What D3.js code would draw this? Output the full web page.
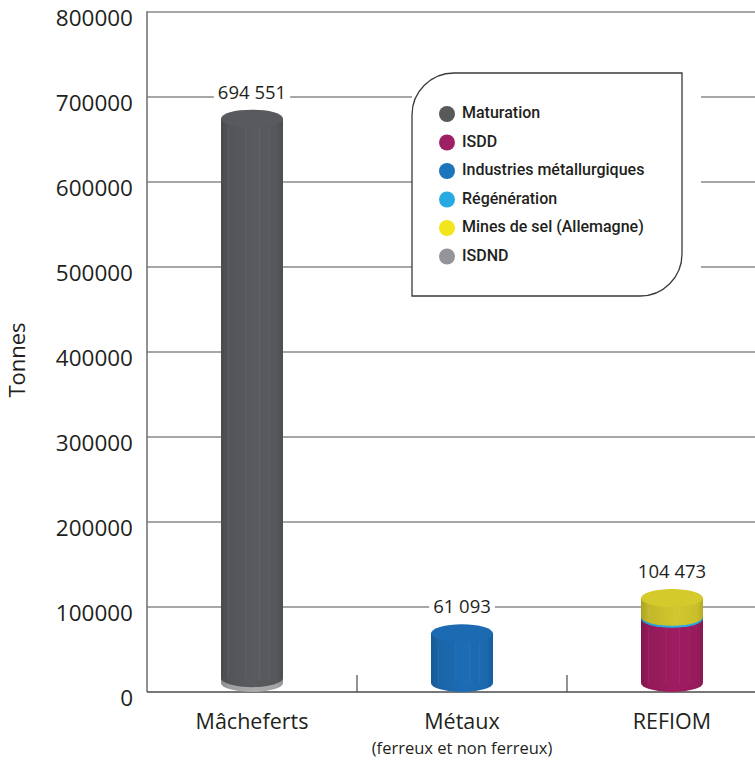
<!DOCTYPE html>
<html>
<head>
<meta charset="utf-8">
<script src="https://cdn.jsdelivr.net/npm/d3@7"></script>
<style>
  html, body { margin: 0; padding: 0; background: #fff; }
  svg { display: block; }
</style>
</head>
<body>
<svg id="chart" width="755" height="762"></svg>
<script>
// Categories and their sub-labels
const categories = ["Mâcheferts", "Métaux", "REFIOM"];
const subLabels = ["", "(ferreux et non ferreux)", ""];

// Destinations (stack order, bottom to top)
const destinations = ["ISDND", "Maturation", "Industries métallurgiques", "ISDD", "Régénération", "Mines de sel (Allemagne)"];

// Tonnages per destination, one array per category (same order as destinations)
const macheferts = [6000, 688551, 0, 0, 0, 0];
const metaux     = [0, 0, 61093, 0, 0, 0];
const refiom     = [0, 0, 0, 79000, 2500, 22973];

// Totals written above each cylinder
const totals = [694551, 61093, 104473];
const totalLabels = ["694 551", "61 093", "104 473"];

// Legend entries (display order)
const legendItems = ["Maturation", "ISDD", "Industries métallurgiques", "Régénération", "Mines de sel (Allemagne)", "ISDND"];

// Y axis ticks
const yTicks = [0, 100000, 200000, 300000, 400000, 500000, 600000, 700000, 800000];

const colors = {
  "Maturation": "#58595b",
  "ISDD": "#9e1f63",
  "Industries métallurgiques": "#1c75bc",
  "Régénération": "#27aae1",
  "Mines de sel (Allemagne)": "#f2e51c",
  "ISDND": "#939598"
};
// Body tones of the cylinders (slightly shaded versions)
const bodyColors = {
  "Maturation": "#56575a",
  "ISDD": "#981b5c",
  "Industries métallurgiques": "#1b68ad",
  "Régénération": "#27a6dc",
  "Mines de sel (Allemagne)": "#c9bf2b",
  "ISDND": "#a3a4a6"
};

const series = [macheferts, metaux, refiom];

const svg = d3.select("#chart");
const W = 755;
const plotLeft = 147, plotTop = 12, plotBottom = 692;

const y = d3.scaleLinear().domain([0, 800000]).range([plotBottom, plotTop]);
const x = d3.scaleBand().domain(categories).range([plotLeft, plotLeft + 630]).padding(0);

// Cylinder projection: floor sits slightly behind the axis baseline
const floorY = 683;
const yc = d3.scaleLinear().domain([0, 800000]).range([floorY, floorY - 650]);
const cylW = 62, ry = 9;

const font = "'Open Sans', 'DejaVu Sans', sans-serif";
const ink = "#231f20";

// Gradients for cylinder bodies
const defs = svg.append("defs");
Object.keys(bodyColors).forEach((k, i) => {
  const c = d3.color(bodyColors[k]);
  const g = defs.append("linearGradient").attr("id", "g" + i).attr("x1", "0").attr("x2", "1").attr("y1", "0").attr("y2", "0");
  g.append("stop").attr("offset", "0").attr("stop-color", c.darker(0.45));
  g.append("stop").attr("offset", "0.12").attr("stop-color", c.darker(0.1));
  g.append("stop").attr("offset", "0.55").attr("stop-color", c.brighter(0.12));
  g.append("stop").attr("offset", "0.9").attr("stop-color", c);
  g.append("stop").attr("offset", "1").attr("stop-color", c.darker(0.3));
});
const gradId = k => "url(#g" + Object.keys(bodyColors).indexOf(k) + ")";

// Gridlines
svg.append("g").selectAll("line").data(yTicks.filter(d => d > 0)).join("line")
  .attr("x1", plotLeft).attr("x2", W)
  .attr("y1", d => y(d)).attr("y2", d => y(d))
  .attr("stroke", "#8a8a8a").attr("stroke-width", 1.5);

// Left axis line
svg.append("line").attr("x1", plotLeft).attr("x2", plotLeft).attr("y1", plotTop - 0.75).attr("y2", plotBottom)
  .attr("stroke", "#6d6d6d").attr("stroke-width", 1.5);

// Baseline and category separators
svg.append("line").attr("x1", plotLeft).attr("x2", W).attr("y1", plotBottom).attr("y2", plotBottom)
  .attr("stroke", "#4a4a4a").attr("stroke-width", 1.5);
svg.append("g").selectAll("line").data(categories.slice(1)).join("line")
  .attr("x1", d => x(d)).attr("x2", d => x(d))
  .attr("y1", plotBottom - 17).attr("y2", plotBottom)
  .attr("stroke", "#4a4a4a").attr("stroke-width", 1.2);

// Y tick labels
svg.append("g").selectAll("text").data(yTicks).join("text")
  .attr("x", 133).attr("y", d => y(d) + 8)
  .attr("text-anchor", "end").attr("dominant-baseline", "middle")
  .attr("font-family", font).attr("font-size", 22.5).attr("fill", ink)
  .text(d => d3.format("d")(d));

// Y axis title
svg.append("text")
  .attr("transform", "translate(19,360) rotate(-90)")
  .attr("text-anchor", "middle").attr("dominant-baseline", "middle")
  .attr("font-family", font).attr("font-size", 22).attr("fill", ink)
  .text("Tonnes");

// Legend backdrop masks gridlines
const lg = { x0: 412, y0: 73, x1: 682, y1: 296, r: 42 };
svg.append("rect").attr("x", lg.x0).attr("y", lg.y0).attr("width", 701 - lg.x0).attr("height", lg.y1 - lg.y0).attr("fill", "#fff");

// Value labels and cylinders
const cyl = svg.append("g");
const labels = svg.append("g");
categories.forEach((cat, ci) => {
  const cx = x(cat) + x.bandwidth() / 2;
  const xl = cx - cylW / 2, xr = cx + cylW / 2, rx = cylW / 2;
  let acc = 0;
  const segs = [];
  destinations.forEach((dest, di) => {
    const v = series[ci][di];
    if (v > 0) { segs.push({ dest, v0: acc, v1: acc + v }); acc += v; }
  });
  segs.forEach((s, si) => {
    const yb = yc(s.v0), yt = yc(s.v1);
    // body with rounded bottom
    const p = `M${xl},${yt} L${xl},${yb} A${rx},${ry} 0 0 0 ${xr},${yb} L${xr},${yt} Z`;
    cyl.append("path").attr("d", p).attr("fill", gradId(s.dest));
    // faint vertical facets
    [0.12, 0.4, 0.62, 0.78].forEach(f => {
      cyl.append("line").attr("x1", xl + f * cylW).attr("x2", xl + f * cylW)
        .attr("y1", Math.min(yt + ry, yb)).attr("y2", yb)
        .attr("stroke", "#fff").attr("stroke-opacity", 0.06).attr("stroke-width", 1);
    });
    if (si === segs.length - 1) {
      const c = d3.color(bodyColors[s.dest]);
      cyl.append("ellipse").attr("cx", cx).attr("cy", yt).attr("rx", rx).attr("ry", ry)
        .attr("fill", s.dest === "Mines de sel (Allemagne)" ? "#d4ca2c" : c.brighter(0.08));
    }
  });
  const topEdge = yc(totals[ci]) - ry;
  const ly = topEdge - 16;
  const lgp = labels.append("g");
  const bg = lgp.append("rect").attr("fill", "#fff");
  const t = lgp.append("text")
    .attr("x", cx).attr("y", ly).attr("text-anchor", "middle").attr("dominant-baseline", "middle")
    .attr("font-family", font).attr("font-size", 18.5).attr("fill", ink)
    .text(totalLabels[ci]);
  const bb = t.node().getBBox();
  bg.attr("x", bb.x - 4).attr("y", bb.y).attr("width", bb.width + 8).attr("height", bb.height);
});

// Legend box
svg.append("path")
  .attr("d", `M${lg.x0},${lg.y1} L${lg.x0},${lg.y0 + lg.r} A${lg.r},${lg.r} 0 0 1 ${lg.x0 + lg.r},${lg.y0} L${lg.x1},${lg.y0} L${lg.x1},${lg.y1 - lg.r} A${lg.r},${lg.r} 0 0 1 ${lg.x1 - lg.r},${lg.y1} Z`)
  .attr("fill", "#fff").attr("stroke", "#3a3a3a").attr("stroke-width", 1.3);

const legend = svg.append("g").selectAll("g").data(legendItems).join("g")
  .attr("transform", (d, i) => `translate(447,${114 + i * 28.5})`);
legend.append("circle").attr("r", 8).attr("fill", d => colors[d]);
legend.append("text").attr("x", 15).attr("dominant-baseline", "middle")
  .attr("font-family", "Roboto, 'DejaVu Sans', sans-serif").attr("font-weight", 500)
  .attr("font-size", 16).attr("fill", ink)
  .text(d => d);

// Category labels
svg.append("g").selectAll("text").data(categories).join("text")
  .attr("x", d => x(d) + x.bandwidth() / 2).attr("y", 723)
  .attr("text-anchor", "middle").attr("dominant-baseline", "middle")
  .attr("font-family", font).attr("font-size", 21.5).attr("fill", ink)
  .text(d => d);
svg.append("g").selectAll("text").data(categories.map((c, i) => ({ c, s: subLabels[i] })).filter(d => d.s)).join("text")
  .attr("x", d => x(d.c) + x.bandwidth() / 2).attr("y", 750)
  .attr("text-anchor", "middle").attr("dominant-baseline", "middle")
  .attr("font-family", font).attr("font-size", 16.5).attr("fill", ink)
  .text(d => d.s);
</script>
</body>
</html>
